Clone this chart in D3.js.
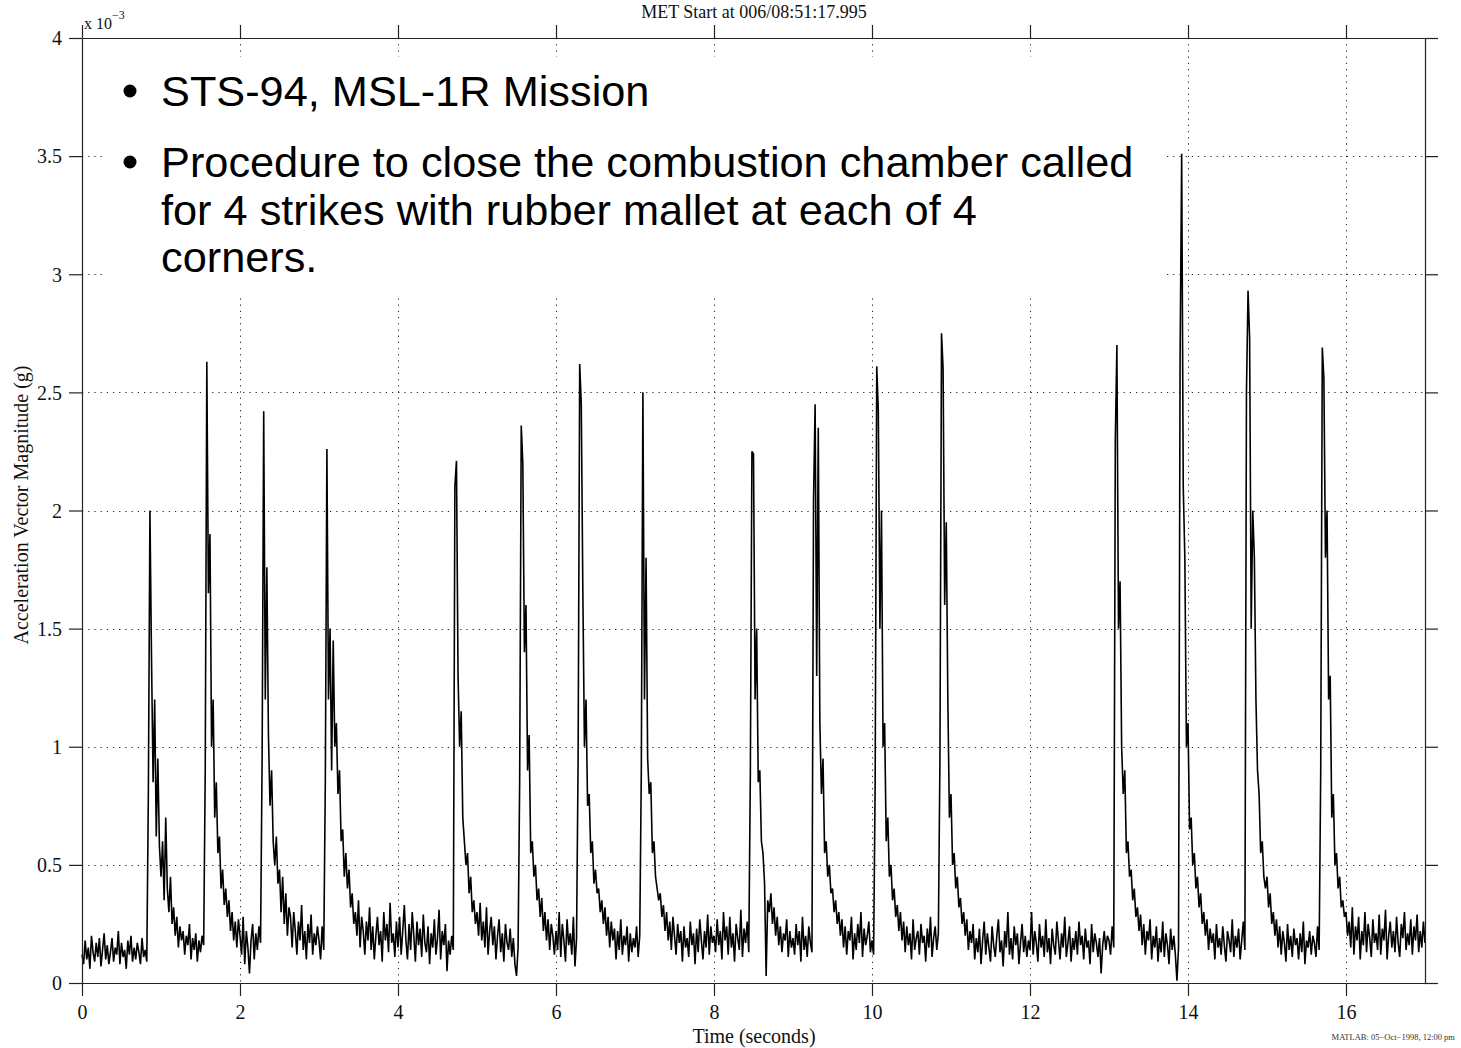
<!DOCTYPE html>
<html><head><meta charset="utf-8">
<script src="https://cdn.jsdelivr.net/npm/d3@7"></script>
<style>body{margin:0;background:#fff;overflow:hidden}</style>
</head><body>
<svg id="chart" width="1461" height="1048"></svg>
<script>
// ---------------- DATA ----------------
// Acceleration vector magnitude, units of 1e-5 g (i.e. hundredths of 1e-3 g),
// sampled every 0.02 s, one array per second of record.
const sampleStep = 0.02;
const sec00 = [12,8,18,10,15,6,20,13,9,17,11,19,7,14,21,10,16,8,13,19,9,15,12,22,8,17,11,14,6,18,12,20,9,15,10,17,13,8,19,11,14,9,80,200,137,85,120,62,95,58];
const sec01 = [45,60,35,70,40,30,45,25,32,20,28,15,24,18,22,12,20,16,25,10,19,14,21,9,18,13,20,16,90,263,165,190,100,120,70,85,55,62,40,48,33,40,28,35,22,30,18,26,15,27];
const sec02 = [20,12,28,8,22,15,4,18,25,10,21,14,24,17,95,242,120,176,105,75,90,60,50,62,42,48,30,45,25,38,20,32,28,15,30,22,12,26,18,33,14,22,10,25,17,29,12,21,16,24];
const sec03 = [18,10,24,14,85,226,120,150,90,145,100,110,80,90,60,65,45,55,40,48,32,38,25,30,20,35,15,28,22,12,26,18,32,14,24,10,20,28,16,22,9,30,18,25,13,34,17,21,11,26];
const sec04 = [15,28,12,22,33,18,10,25,14,30,20,9,26,16,23,11,29,17,13,24,8,21,15,27,12,19,31,10,22,16,25,5,18,12,20,14,210,221,130,100,115,70,60,50,55,38,45,30,35,25];
const sec05 = [30,20,34,18,26,15,32,12,22,28,16,24,10,20,27,13,21,9,25,17,14,23,11,19,8,3,15,85,236,220,140,160,90,105,55,60,45,50,35,40,28,36,22,30,18,27,14,25,20,12];
const sec06 = [22,14,30,11,25,18,9,27,16,21,12,28,7,19,95,262,245,165,100,120,75,80,55,60,42,48,38,40,30,35,25,32,20,28,15,26,18,23,10,22,14,27,12,20,16,24,9,21,13,19];
const sec07 = [15,24,11,20,90,250,120,180,95,80,85,55,60,45,40,35,38,28,33,22,30,18,26,14,28,20,12,25,17,22,9,24,15,19,11,26,16,21,8,23,13,27,18,10,22,15,29,12,24,17];
const sec08 = [20,13,27,16,22,10,30,18,24,12,28,15,21,9,25,19,14,31,11,23,17,26,13,88,225,224,120,150,85,90,60,55,42,3,35,30,38,25,32,20,28,16,24,13,21,18,27,11,22,15];
const sec09 = [19,12,25,16,22,9,28,14,20,11,24,17,13,205,245,130,235,110,80,95,55,60,45,50,38,40,30,35,25,30,20,27,15,24,12,22,18,28,10,21,14,25,17,30,11,23,16,20,26,13];
const sec10 = [18,12,85,261,242,150,200,100,110,60,70,45,50,35,40,28,33,22,30,18,26,13,24,16,21,10,27,14,19,22,12,25,17,20,9,23,15,28,11,19,24,14,21,95,275,260,160,195,120,70];
const sec11 = [80,50,55,40,45,32,36,25,30,20,27,14,22,17,25,10,19,13,23,8,18,26,12,21,15,9,24,16,11,20,27,13,18,7,22,15,30,12,19,10,24,16,21,8,17,25,13,20,11,18];
const sec12 = [14,30,12,22,17,9,25,15,20,11,27,13,19,8,23,16,12,26,18,10,21,15,28,11,17,24,9,19,14,22,12,26,16,20,10,23,15,18,8,25,13,21,17,11,19,4,16,22,14,20];
const sec13 = [18,12,24,15,230,270,150,170,100,80,90,55,60,45,48,35,40,28,32,22,29,16,25,12,22,18,27,10,20,15,24,9,19,13,26,11,21,16,8,23,14,20,12,1,15,265,351,210,180,100];
const sec14 = [110,65,70,50,55,40,45,32,38,25,30,20,27,14,23,17,21,10,25,15,19,12,24,16,9,22,18,13,27,11,20,15,23,10,18,26,14,250,293,273,150,200,180,120,90,80,55,60,45,40];
const sec15 = [45,32,38,25,30,20,27,15,24,12,22,17,9,25,14,20,11,23,16,19,10,21,13,26,8,18,15,22,12,20,17,11,24,14,90,269,256,180,200,120,130,70,80,50,55,40,45,32,35,28];
const sec16 = [30,20,26,15,32,12,24,18,28,10,22,16,30,13,25,19,11,27,17,21,14,29,12,23,18,31,10,20,26,15,22,13,28,17,11,25,19,30,14,21,16,27,12,24,18,29,13,22,15,26];
const lastSample = [17];

const xTicks = [0, 2, 4, 6, 8, 10, 12, 14, 16];
const yTicks = [0, 0.5, 1, 1.5, 2, 2.5, 3, 3.5, 4];
const yTickLabels = ["0", "0.5", "1", "1.5", "2", "2.5", "3", "3.5", "4"];
const xDomain = [0, 17];
const yDomain = [0, 4];

const titleText = "MET Start at 006/08:51:17.995";
const xLabelText = "Time (seconds)";
const yLabelText = "Acceleration Vector Magnitude (g)";
const stampText = "MATLAB: 05\u2212Oct\u22121998, 12:00 pm";
const bullet1 = ["STS-94, MSL-1R Mission"];
const bullet2 = ["Procedure to close the combustion chamber called", "for 4 strikes with rubber mallet at each of 4", "corners."];

// ---------------- BUILD ----------------
const rawSeries = [].concat(sec00, sec01, sec02, sec03, sec04, sec05, sec06, sec07, sec08,
  sec09, sec10, sec11, sec12, sec13, sec14, sec15, sec16, lastSample);
const series = rawSeries.map((v, i) => ({ t: i * sampleStep, a: v / 100 }));

const svg = d3.select("#chart");
const L = 82, R = 1425, T = 38, B = 983;
const x = d3.scaleLinear().domain(xDomain).range([L, R]);
const y = d3.scaleLinear().domain(yDomain).range([B, T]);
const serif = "'Liberation Serif','Times New Roman',Times,serif";
const sans = "'Liberation Sans',Arial,Helvetica,sans-serif";
const tickLen = 13;

svg.append("rect").attr("width", 1461).attr("height", 1048).attr("fill", "#fff");

// grid
const grid = svg.append("g").attr("stroke", "#222").attr("stroke-width", 1)
  .attr("stroke-dasharray", "1.2,5").attr("fill", "none");
grid.selectAll("line.v").data(xTicks.filter(d => d > 0)).join("line")
  .attr("x1", d => Math.round(x(d)) + 0.5).attr("x2", d => Math.round(x(d)) + 0.5)
  .attr("y1", T).attr("y2", B);
grid.selectAll("line.h").data(yTicks.filter(d => d > 0 && d < 4)).join("line")
  .attr("y1", d => Math.round(y(d)) + 0.5).attr("y2", d => Math.round(y(d)) + 0.5)
  .attr("x1", L).attr("x2", R);

// data line
const line = d3.line().x(d => x(d.t)).y(d => y(d.a));
svg.append("path").datum(series).attr("d", line)
  .attr("fill", "none").attr("stroke", "#000").attr("stroke-width", 1.6)
  .attr("stroke-linejoin", "miter").attr("stroke-miterlimit", 2);

// axes (MATLAB-style box with outward ticks)
const gBottom = svg.append("g").attr("transform", `translate(0,${B})`)
  .call(d3.axisBottom(x).tickValues(xTicks).tickSize(tickLen).tickSizeOuter(0).tickPadding(9).tickFormat(d3.format("d")));
const gTop = svg.append("g").attr("transform", `translate(0,${T})`)
  .call(d3.axisTop(x).tickValues(xTicks).tickSize(tickLen).tickSizeOuter(0).tickFormat(""));
const gLeft = svg.append("g").attr("transform", `translate(${L},0)`)
  .call(d3.axisLeft(y).tickValues(yTicks).tickSize(tickLen).tickSizeOuter(0).tickPadding(7)
    .tickFormat((d, i) => yTickLabels[i]));
const gRight = svg.append("g").attr("transform", `translate(${R},0)`)
  .call(d3.axisRight(y).tickValues(yTicks).tickSize(tickLen).tickSizeOuter(0).tickFormat(""));
[gBottom, gTop, gLeft, gRight].forEach(g => {
  g.selectAll("path.domain").attr("stroke", "#222").attr("stroke-width", 1.2);
  g.selectAll(".tick line").attr("stroke", "#222").attr("stroke-width", 1.2);
  g.selectAll("text").attr("font-family", serif).attr("font-size", 20).attr("fill", "#111");
});
gLeft.selectAll("text").attr("dy", "0.34em");

// exponent label
const expo = svg.append("text").attr("x", 84).attr("y", 29)
  .attr("font-family", serif).attr("font-size", 16).attr("fill", "#111");
expo.append("tspan").text("x 10");
expo.append("tspan").attr("dy", -10).attr("font-size", 12).text("\u22123");

// title (near the top edge, as in the reference)
svg.append("text").attr("x", 754).attr("y", 18).attr("text-anchor", "middle")
  .attr("font-family", serif).attr("font-size", 18).attr("fill", "#111").text(titleText);

// axis labels
svg.append("text").attr("x", 754).attr("y", 1043).attr("text-anchor", "middle")
  .attr("font-family", serif).attr("font-size", 20).attr("fill", "#111").text(xLabelText);
svg.append("text").attr("transform", "translate(28,505) rotate(-90)").attr("text-anchor", "middle")
  .attr("font-family", serif).attr("font-size", 20).attr("fill", "#111").text(yLabelText);

// stamp
svg.append("text").attr("x", 1455).attr("y", 1040).attr("text-anchor", "end")
  .attr("font-family", serif).attr("font-size", 8.5).attr("fill", "#333").text(stampText);

// overlay text box
svg.append("rect").attr("x", 104).attr("y", 57).attr("width", 1058).attr("height", 238).attr("fill", "#fff");
const tb = svg.append("g").attr("font-family", sans).attr("font-size", 43.3).attr("fill", "#000");
const bullets = [{ lines: bullet1, y0: 106 }, { lines: bullet2, y0: 177 }];
bullets.forEach(b => {
  tb.append("circle").attr("cx", 130).attr("cy", b.y0 - 15).attr("r", 6.5).attr("fill", "#000");
  b.lines.forEach((s, i) => {
    tb.append("text").attr("x", 161).attr("y", b.y0 + i * 47.5).text(s);
  });
});
</script>
</body></html>
